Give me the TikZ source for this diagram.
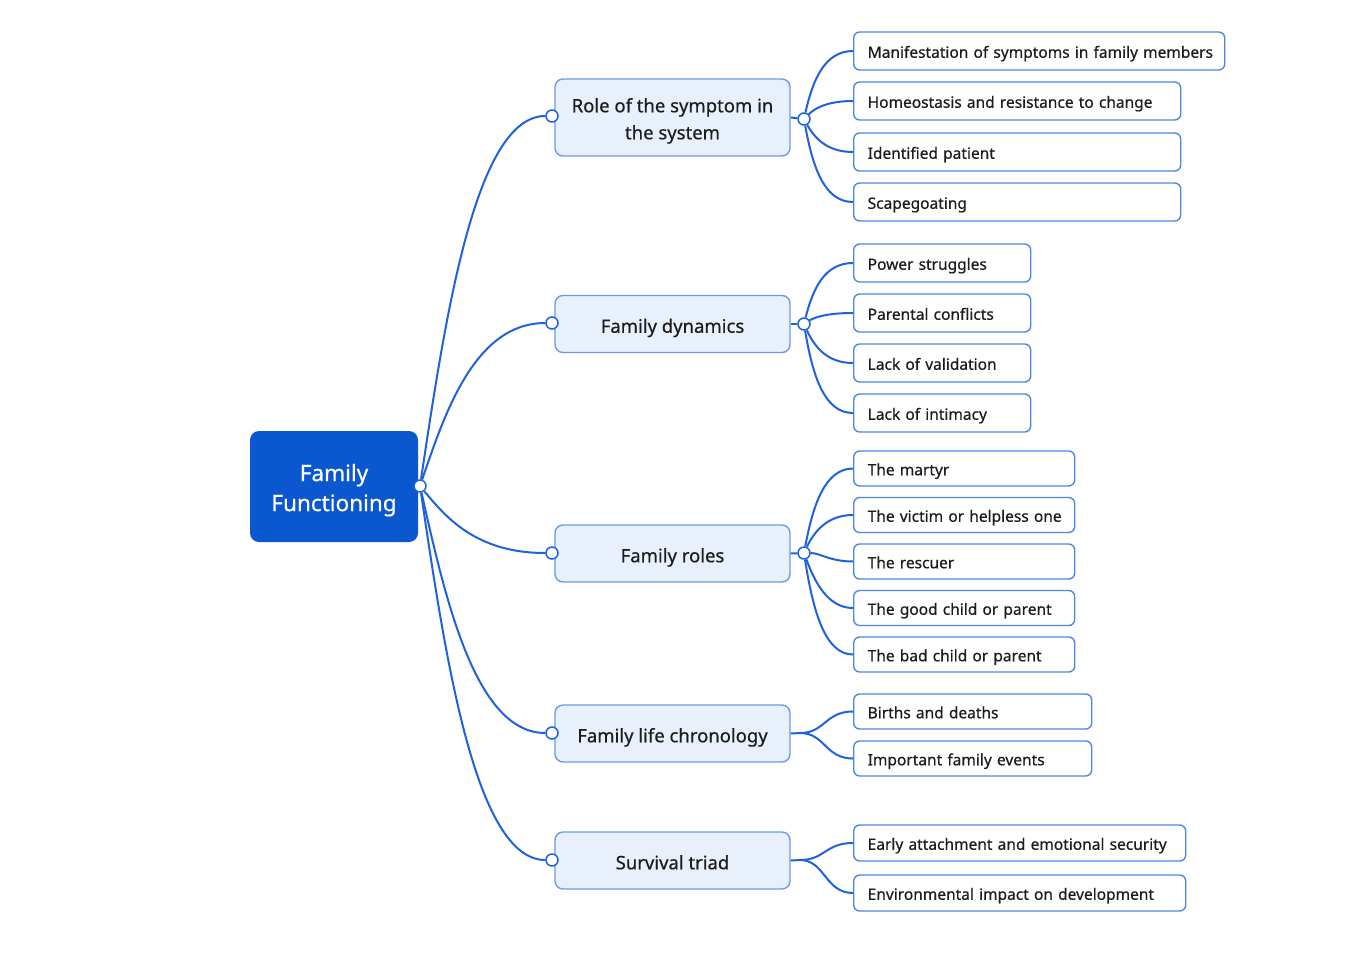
\documentclass[tikz,border=0pt]{standalone}
\usepackage{fontspec}
\setmainfont{Noto Sans}[FakeBold=0.5]
\definecolor{rootblue}{HTML}{0B57D0}
\definecolor{linkblue}{HTML}{1F62DC}
\definecolor{midfill}{HTML}{E8F0FC}
\definecolor{midborder}{HTML}{6C9BE6}
\definecolor{leafborder}{HTML}{4D87E6}
\definecolor{txt}{HTML}{1C1C1C}
\begin{document}
\begin{tikzpicture}[x=1pt,y=-1pt,
 rootbox/.style={rectangle, rounded corners=9pt, fill=rootblue, text=white, minimum width=168pt, minimum height=111pt, align=center, font=\fontsize{22.5}{30}\selectfont, inner sep=0pt},
 midbox/.style={rectangle, rounded corners=8pt, fill=midfill, draw=midborder, line width=1.4pt, minimum width=235pt, minimum height=57pt, align=center, font=\fontsize{18.5}{27}\selectfont, text=txt, inner sep=0pt},
 midone/.style={midbox, text height=17.5pt, text depth=0pt},
 leafbox/.style={rectangle, rounded corners=6pt, fill=white, draw=leafborder, line width=1.4pt, anchor=west, inner xsep=14pt, inner ysep=0pt, align=left, font=\fontsize{15.5}{18}\selectfont, text=txt, text height=13.5pt, text depth=0pt},
 dot/.style={circle, draw=linkblue, fill=white, line width=1.5pt, minimum size=12pt, inner sep=0pt},
 link/.style={draw=linkblue, line width=2pt},
]
\useasboundingbox[fill=white] (0,0) rectangle (1370,975);

% root
\node[rootbox] (root) at (334,486.5) {\rule{0pt}{24.5pt}Family\\Functioning};
\node[dot] (rd) at (420,486) {};

% mid nodes
\node[midbox, minimum height=77pt] (m1) at (672.5,117.5) {\rule{0pt}{21pt}Role of the symptom in\\the system};
\node[midone] (m2) at (672.5,324) {Family dynamics};
\node[midone] (m3) at (672.5,553.5) {Family roles};
\node[midone] (m4) at (672.5,733.5) {Family life chronology};
\node[midone] (m5) at (672.5,860.5) {Survival triad};

\node[dot] (c1) at (552,116) {};
\node[dot] (c2) at (552,323) {};
\node[dot] (c3) at (552,553) {};
\node[dot] (c4) at (552,733) {};
\node[dot] (c5) at (552,860) {};

\node[dot] (r1) at (804,119) {};
\node[dot] (r2) at (804,324) {};
\node[dot] (r3) at (804,553) {};
\coordinate (b4) at (800,733);
\coordinate (b5) at (800,860);

% leaves group 1
\node[leafbox, minimum height=38pt, text width=343pt] (l11) at (853,51) {\mbox{Manifestation of symptoms in family members}};
\node[leafbox, minimum height=38pt, text width=299pt] (l12) at (853,101) {\mbox{Homeostasis and resistance to change}};
\node[leafbox, minimum height=38pt, text width=299pt] (l13) at (853,152) {\mbox{Identified patient}};
\node[leafbox, minimum height=38pt, text width=299pt] (l14) at (853,202) {\mbox{Scapegoating}};
% group 2
\node[leafbox, minimum height=38pt, text width=149pt] (l21) at (853,263) {\mbox{Power struggles}};
\node[leafbox, minimum height=38pt, text width=149pt] (l22) at (853,313) {\mbox{Parental conflicts}};
\node[leafbox, minimum height=38pt, text width=149pt] (l23) at (853,363) {\mbox{Lack of validation}};
\node[leafbox, minimum height=38pt, text width=149pt] (l24) at (853,413) {\mbox{Lack of intimacy}};
% group 3
\node[leafbox, minimum height=35pt, text width=193pt] (l31) at (853,468.5) {\mbox{The martyr}};
\node[leafbox, minimum height=35pt, text width=193pt] (l32) at (853,515) {\mbox{The victim or helpless one}};
\node[leafbox, minimum height=35pt, text width=193pt] (l33) at (853,561.5) {\mbox{The rescuer}};
\node[leafbox, minimum height=35pt, text width=193pt] (l34) at (853,608) {\mbox{The good child or parent}};
\node[leafbox, minimum height=35pt, text width=193pt] (l35) at (853,654.5) {\mbox{The bad child or parent}};
% group 4
\node[leafbox, minimum height=35pt, text width=210pt] (l41) at (853,711.5) {\mbox{Births and deaths}};
\node[leafbox, minimum height=35pt, text width=210pt] (l42) at (853,758.5) {\mbox{Important family events}};
% group 5
\node[leafbox, minimum height=36pt, text width=304pt] (l51) at (853,843) {\mbox{Early attachment and emotional security}};
\node[leafbox, minimum height=36pt, text width=304pt] (l52) at (853,893) {\mbox{Environmental impact on development}};

% root links
\draw[link] (rd) .. controls (445,319.5) and (475,116) .. (c1);
\draw[link] (rd) .. controls (445,412.5) and (475,323) .. (c2);
\draw[link] (rd) .. controls (445,516) and (475,553) .. (c3);
\draw[link] (rd) .. controls (445,597) and (475,733) .. (c4);
\draw[link] (rd) .. controls (445,655) and (475,860) .. (c5);

% stubs
\draw[link] (m1.east) -- (r1);
\draw[link] (m2.east) -- (r2);
\draw[link] (m3.east) -- (r3);
\draw[link] (m4.east) -- (b4);
\draw[link] (m5.east) -- (b5);

% group 1 links
\draw[link] (r1) .. controls (813,79) and (825,51) .. (l11.west);
\draw[link] (r1) .. controls (815,108) and (828,101) .. (l12.west);
\draw[link] (r1) .. controls (815,139) and (828,152) .. (l13.west);
\draw[link] (r1) .. controls (813,169) and (825,202) .. (l14.west);
% group 2
\draw[link] (r2) .. controls (813,288) and (825,263) .. (l21.west);
\draw[link] (r2) .. controls (815,317) and (828,313) .. (l22.west);
\draw[link] (r2) .. controls (815,348) and (828,363) .. (l23.west);
\draw[link] (r2) .. controls (813,378) and (825,413) .. (l24.west);
% group 3
\draw[link] (r3) .. controls (813,505) and (825,468.5) .. (l31.west);
\draw[link] (r3) .. controls (814,532) and (827,515) .. (l32.west);
\draw[link] (r3) .. controls (820,553) and (830,561.5) .. (l33.west);
\draw[link] (r3) .. controls (814,580) and (827,608) .. (l34.west);
\draw[link] (r3) .. controls (813,611) and (825,654.5) .. (l35.west);
% group 4
\draw[link] (b4) .. controls (825,733) and (825,711.5) .. (l41.west);
\draw[link] (b4) .. controls (825,733) and (825,758.5) .. (l42.west);
% group 5
\draw[link] (b5) .. controls (825,860) and (825,843) .. (l51.west);
\draw[link] (b5) .. controls (825,860) and (825,893) .. (l52.west);
\end{tikzpicture}
\end{document}
